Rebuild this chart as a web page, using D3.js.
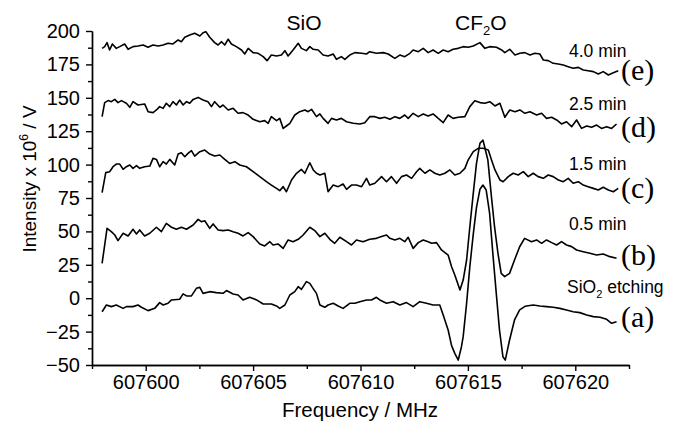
<!DOCTYPE html>
<html>
<head>
<meta charset="utf-8">
<script src="https://cdn.jsdelivr.net/npm/d3@7"></script>
<style>
body { margin: 0; background: #fff; }
svg text { fill: #000; }
</style>
</head>
<body>
<div id="chart"></div>
<script>
// spectra: [frequency MHz, intensity x 10^6 V]
var traceA = [[607597.97,-10.1],[607598.17,-5.1],[607598.40,-6.3],[607598.63,-5.1],[607598.95,-7.6],[607599.10,-6.3],[607599.41,-6.3],[607599.64,-5.1],[607599.80,-6.8],[607600.11,-9.3],[607600.42,-7.6],[607600.65,-3.3],[607600.81,-5.1],[607601.04,-3.8],[607601.20,-1.3],[607601.58,-0.8],[607601.74,3.2],[607601.90,1.7],[607602.13,1.7],[607602.36,7.4],[607602.52,8.1],[607602.67,3.6],[607602.98,4.9],[607603.29,4.2],[607603.60,3.7],[607603.76,5.7],[607604.07,3.2],[607604.30,2.4],[607604.53,-1.3],[607604.84,0.7],[607605.16,-1.3],[607605.47,-4.3],[607605.85,-4.3],[607606.09,-5.8],[607606.24,-7.6],[607606.48,-5.1],[607606.71,2.4],[607606.94,4.9],[607607.10,8.6],[607607.25,6.6],[607607.48,12.4],[607607.64,11.1],[607607.79,7.4],[607607.95,3.6],[607608.11,-5.1],[607608.34,-6.8],[607608.49,-5.1],[607608.73,-3.8],[607608.96,-5.8],[607609.19,-7.6],[607609.50,-3.8],[607609.74,-3.8],[607609.97,-2.6],[607610.28,-1.3],[607610.51,-1.3],[607610.74,0.7],[607610.90,-1.3],[607611.21,-3.8],[607611.52,-2.6],[607611.83,-5.1],[607612.14,-3.3],[607612.45,-6.3],[607612.76,-2.6],[607613.07,-3.8],[607613.38,-5.1],[607613.69,-5.1],[607613.85,-12.6],[607614.08,-23.8],[607614.24,-35.5],[607614.39,-41.3],[607614.55,-46.3],[607614.70,-36.3],[607614.78,-28.8],[607614.94,-3.8],[607615.09,23.6],[607615.25,48],[607615.40,68],[607615.56,81.5],[607615.70,84.7],[607615.85,81],[607616.01,63.6],[607616.16,33.7],[607616.32,3.8],[607616.47,-23.7],[607616.63,-43.8],[607616.74,-46.3],[607616.94,-31.3],[607617.17,-16.3],[607617.41,-8.8],[607617.64,-6.3],[607617.73,-5.8],[607618.04,-5.1],[607618.35,-5.8],[607618.66,-6.3],[607618.97,-6.8],[607619.28,-7.6],[607619.59,-8.8],[607619.90,-10.1],[607620.21,-10.8],[607620.53,-12.6],[607620.84,-13.8],[607621.15,-14.3],[607621.46,-15.8],[607621.69,-18.8],[607621.92,-17.6]];

var traceB = [[607597.97,26.1],[607598.20,52.3],[607598.40,49.8],[607598.56,47.3],[607598.71,43.1],[607598.95,48.6],[607599.18,46.6],[607599.41,51.6],[607599.57,48.1],[607599.72,51.1],[607599.95,46.6],[607600.19,48.6],[607600.50,53.1],[607600.73,49.8],[607600.96,56.0],[607601.20,53.1],[607601.43,51.6],[607601.66,53.1],[607601.90,51.6],[607602.21,54.8],[607602.44,59.0],[607602.59,57.3],[607602.75,58.0],[607602.98,52.3],[607603.14,55.6],[607603.37,51.1],[607603.60,50.6],[607603.84,51.1],[607604.07,49.8],[607604.30,48.6],[607604.53,46.6],[607604.77,49.1],[607605.00,46.1],[607605.31,40.6],[607605.54,39.1],[607605.78,42.3],[607605.93,39.8],[607606.16,40.6],[607606.40,37.3],[607606.63,43.6],[607606.86,42.3],[607607.10,44.1],[607607.33,47.3],[607607.64,53.1],[607607.87,50.6],[607608.11,46.1],[607608.34,48.6],[607608.57,44.1],[607608.80,41.1],[607609.04,45.6],[607609.35,42.3],[607609.58,39.8],[607609.81,43.6],[607610.12,42.3],[607610.43,44.1],[607610.74,44.8],[607610.98,46.1],[607611.21,47.3],[607611.37,44.8],[607611.60,43.6],[607611.83,44.8],[607612.06,42.3],[607612.22,45.6],[607612.45,37.3],[607612.69,41.6],[607612.92,43.6],[607613.15,42.3],[607613.31,41.1],[607613.54,41.6],[607613.77,36.1],[607614.08,32.3],[607614.24,23.6],[607614.39,17.4],[607614.63,6.1],[607614.78,13.6],[607614.94,28.6],[607615.09,53.5],[607615.25,78.5],[607615.40,100.9],[607615.56,115.9],[607615.70,118.4],[607615.93,103.4],[607616.08,78.5],[607616.24,53.5],[607616.40,33.5],[607616.55,18.6],[607616.71,16.1],[607616.94,18.6],[607617.17,28.6],[607617.41,38.5],[607617.64,44.8],[607617.96,42.3],[607618.20,43.6],[607618.43,41.1],[607618.66,43.6],[607618.90,41.6],[607619.13,39.8],[607619.36,42.3],[607619.59,39.8],[607619.83,38.6],[607620.06,36.1],[607620.37,34.8],[607620.68,33.6],[607620.99,32.3],[607621.30,33.1],[607621.61,31.1],[607621.92,29.9]];

var traceC = [[607597.97,79.0],[607598.14,94.0],[607598.32,94.7],[607598.48,98.4],[607598.63,100.4],[607598.79,100.4],[607598.95,96.5],[607599.10,98.4],[607599.26,99.7],[607599.41,97.2],[607599.57,99.2],[607599.72,97.2],[607599.95,98.4],[607600.19,98.9],[607600.34,104.7],[607600.50,103.9],[607600.65,98.4],[607600.81,102.2],[607600.96,100.4],[607601.12,103.9],[607601.35,99.7],[607601.51,107.9],[607601.66,108.9],[607601.82,105.9],[607601.97,108.4],[607602.13,110.4],[607602.28,106.4],[607602.52,109.7],[607602.75,110.9],[607602.98,107.9],[607603.21,106.4],[607603.45,107.2],[607603.68,103.9],[607603.91,100.9],[607604.15,102.2],[607604.38,99.7],[607604.69,98.4],[607605.00,94.7],[607605.31,91.0],[607605.62,87.2],[607605.85,84.7],[607606.09,82.2],[607606.24,80.5],[607606.40,83.5],[607606.55,79.7],[607606.79,88.5],[607607.02,93.5],[607607.25,96.4],[607607.41,93.5],[607607.64,101.4],[607607.80,96.0],[607607.95,93.5],[607608.11,92.2],[607608.34,93.5],[607608.49,79.7],[607608.73,84.7],[607608.96,83.5],[607609.19,85.5],[607609.35,81.5],[607609.58,84.7],[607609.81,84.7],[607610.05,83.5],[607610.28,89.7],[607610.43,84.7],[607610.67,86.0],[607610.98,91.0],[607611.21,87.2],[607611.44,91.0],[607611.68,86.0],[607611.91,91.0],[607612.14,92.2],[607612.38,89.7],[607612.61,94.7],[607612.76,97.2],[607613.00,93.5],[607613.23,96.0],[607613.46,93.5],[607613.69,92.2],[607613.93,93.5],[607614.16,96.0],[607614.39,92.2],[607614.63,93.5],[607614.86,97.2],[607615.01,103.4],[607615.25,109.7],[607615.48,112.2],[607615.71,112.2],[607615.95,110.9],[607616.10,103.4],[607616.26,96.0],[607616.49,88.5],[607616.64,87.2],[607616.88,91.0],[607617.11,93.5],[607617.34,92.2],[607617.58,94.7],[607617.81,91.0],[607618.04,93.5],[607618.27,91.0],[607618.51,89.7],[607618.74,92.2],[607618.97,91.0],[607619.21,88.5],[607619.44,87.2],[607619.67,89.7],[607619.90,86.0],[607620.14,87.2],[607620.37,84.7],[607620.60,83.5],[607620.84,82.2],[607621.07,81.0],[607621.30,83.0],[607621.54,81.0],[607621.77,79.7],[607622.00,82.2]];

var traceD = [[607597.97,135.9],[607598.09,146.4],[607598.25,147.9],[607598.40,147.1],[607598.56,148.8],[607598.71,146.4],[607598.87,147.9],[607599.10,145.9],[607599.26,142.9],[607599.41,147.1],[607599.64,144.6],[607599.95,145.4],[607600.11,139.6],[607600.34,138.9],[607600.50,140.9],[607600.65,143.4],[607600.81,142.1],[607600.96,145.9],[607601.12,143.4],[607601.27,147.1],[607601.43,144.6],[607601.58,148.3],[607601.74,144.6],[607601.90,147.1],[607602.05,145.9],[607602.21,148.8],[607602.44,150.3],[607602.67,148.3],[607602.90,147.1],[607603.06,143.4],[607603.21,147.1],[607603.45,142.9],[607603.60,144.6],[607603.84,140.9],[607604.07,142.1],[607604.30,138.4],[607604.53,138.9],[607604.77,137.1],[607605.00,133.9],[607605.31,132.1],[607605.54,132.9],[607605.70,130.9],[607605.85,135.9],[607606.09,132.9],[607606.24,134.6],[607606.40,127.1],[607606.55,128.9],[607606.71,130.9],[607606.94,137.1],[607607.17,139.6],[607607.41,140.9],[607607.56,139.6],[607607.72,141.4],[607607.95,135.9],[607608.11,137.9],[607608.26,134.6],[607608.49,130.9],[607608.65,134.6],[607608.88,133.4],[607609.11,134.6],[607609.35,132.1],[607609.66,130.9],[607609.97,130.4],[607610.20,131.4],[607610.43,135.9],[607610.67,135.9],[607610.90,134.6],[607611.13,135.4],[607611.37,133.9],[607611.60,135.9],[607611.83,134.6],[607612.06,137.1],[607612.22,134.6],[607612.45,138.4],[607612.69,135.9],[607612.92,137.9],[607613.15,136.4],[607613.38,137.9],[607613.62,134.6],[607613.85,131.4],[607614.08,137.1],[607614.31,134.6],[607614.55,135.4],[607614.86,135.9],[607615.09,143.4],[607615.32,147.8],[607615.56,146.4],[607615.79,145.9],[607616.02,147.1],[607616.26,143.9],[607616.49,145.9],[607616.72,135.4],[607616.95,140.9],[607617.19,139.6],[607617.42,140.9],[607617.65,138.4],[607617.89,139.6],[607618.20,137.1],[607618.43,138.4],[607618.66,134.6],[607618.90,135.4],[607619.13,133.4],[607619.36,130.4],[607619.59,132.1],[607619.83,128.4],[607620.06,133.4],[607620.29,127.1],[607620.53,128.9],[607620.76,127.9],[607620.99,129.6],[607621.22,127.1],[607621.46,128.4],[607621.69,127.1],[607621.92,130.4]];

var traceE = [[607597.97,187.0],[607598.09,188.3],[607598.20,191.3],[607598.32,185.8],[607598.45,190.3],[607598.63,187.0],[607598.79,188.3],[607599.02,190.3],[607599.18,186.3],[607599.41,188.3],[607599.64,188.8],[607599.88,189.5],[607600.11,187.8],[607600.34,189.5],[607600.58,188.8],[607600.81,189.5],[607601.04,190.8],[607601.27,190.3],[607601.51,193.3],[607601.66,192.0],[607601.82,195.3],[607602.05,197.0],[607602.28,198.3],[607602.52,196.3],[607602.67,198.7],[607602.80,199.5],[607602.98,195.3],[607603.21,191.3],[607603.37,189.5],[607603.53,192.0],[607603.68,189.5],[607603.84,193.8],[607603.99,190.3],[607604.22,188.3],[607604.46,185.8],[607604.61,182.8],[607604.77,187.0],[607605.00,183.8],[607605.23,183.3],[607605.47,180.8],[607605.65,177.8],[607605.85,182.0],[607606.09,181.3],[607606.32,182.0],[607606.48,185.3],[607606.63,181.3],[607606.86,185.8],[607607.10,190.8],[607607.25,187.0],[607607.48,185.3],[607607.64,188.3],[607607.80,186.3],[607608.03,185.8],[607608.26,182.0],[607608.49,181.3],[607608.73,182.8],[607608.88,178.8],[607609.11,180.8],[607609.27,178.8],[607609.50,182.0],[607609.74,183.8],[607610.05,183.3],[607610.28,182.8],[607610.43,184.5],[607610.74,183.3],[607611.06,183.8],[607611.29,182.8],[607611.60,179.5],[607611.83,182.0],[607612.06,180.8],[607612.30,183.3],[607612.45,185.8],[607612.69,184.5],[607612.92,187.0],[607613.15,183.8],[607613.38,185.8],[607613.62,183.3],[607613.85,185.8],[607614.08,184.5],[607614.31,186.3],[607614.55,187.0],[607614.78,188.3],[607615.01,187.8],[607615.25,188.8],[607615.56,191.3],[607615.79,187.0],[607616.02,188.3],[607616.33,187.8],[607616.57,185.8],[607616.72,183.8],[607616.95,186.3],[607617.19,182.0],[607617.42,183.3],[607617.65,183.8],[607617.89,182.0],[607618.12,183.3],[607618.35,182.8],[607618.51,178.3],[607618.74,177.8],[607618.97,175.8],[607619.21,175.3],[607619.44,174.5],[607619.67,173.3],[607619.90,172.1],[607620.14,172.8],[607620.37,170.8],[607620.60,170.3],[607620.84,169.6],[607621.07,167.8],[607621.30,169.6],[607621.54,167.1],[607621.77,168.8],[607622.00,170.3]];

var traces = [traceA, traceB, traceC, traceD, traceE];
var xMajor = [607600, 607605, 607610, 607615, 607620];
var xMinor = [607597.5, 607602.5, 607607.5, 607612.5, 607617.5, 607622.5];
var yMajor = [-50, -25, 0, 25, 50, 75, 100, 125, 150, 175, 200];
var yMinor = [-37.5, -12.5, 12.5, 37.5, 62.5, 87.5, 112.5, 137.5, 162.5, 187.5];
var timeLabels = ["4.0 min", "2.5 min", "1.5 min", "0.5 min"];
var letterLabels = ["(e)", "(d)", "(c)", "(b)", "(a)"];

var sans = "'Liberation Sans', Arial, sans-serif",
    serif = "'Liberation Serif', 'Times New Roman', serif";

var width = 676,
    height = 425;

var x = d3.scaleLinear()
    .domain([607597.5, 607622.5])
    .range([92, 629]);
var y = d3.scaleLinear()
    .domain([-50, 200])
    .range([365, 31]);

var svg = d3.select("#chart").append("svg")
    .attr("width", width)
    .attr("height", height)
    .style("font-family", sans);

var line = d3.line()
    .x(d => x(d[0]))
    .y(d => y(d[1]));

svg.append("g")
    .selectAll("path")
    .data(traces)
    .enter().append("path")
    .attr("d", line)
    .attr("fill", "none")
    .attr("stroke", "#000")
    .attr("stroke-width", 1.6)
    .attr("stroke-linejoin", "round");

// axes
svg.append("g")
    .attr("transform", "translate(0,365)")
    .call(d3.axisBottom(x).tickValues(xMajor).tickFormat(d3.format("d")).tickSize(6).tickSizeOuter(0).tickPadding(4));
svg.append("g")
    .attr("transform", "translate(0,365)")
    .call(d3.axisBottom(x).tickValues(xMinor).tickFormat("").tickSize(4).tickSizeOuter(0));

svg.append("g")
    .attr("transform", "translate(92,0)")
    .call(d3.axisLeft(y).tickValues(yMajor).tickSize(6).tickSizeOuter(0).tickPadding(6));
svg.append("g")
    .attr("transform", "translate(92,0)")
    .call(d3.axisLeft(y).tickValues(yMinor).tickFormat("").tickSize(4).tickSizeOuter(0));

svg.selectAll(".domain, .tick line")
    .attr("stroke", "#000")
    .attr("stroke-width", 1.4);
svg.selectAll(".tick text")
    .style("font-family", sans)
    .style("font-size", "20px")
    .attr("fill", "#000");

// axis titles
svg.append("text")
    .attr("x", 360)
    .attr("y", 417)
    .attr("text-anchor", "middle")
    .style("font-size", "20.5px")
    .text("Frequency / MHz");

var yt = svg.append("text")
    .attr("transform", "translate(36,179) rotate(-90)")
    .attr("text-anchor", "middle")
    .style("font-size", "19px");
yt.append("tspan").text("Intensity x 10");
yt.append("tspan").style("font-size", "12px").attr("dy", -8).text("6");
yt.append("tspan").attr("dy", 8).text(" / V");

// species labels
svg.append("text")
    .attr("x", 304).attr("y", 30)
    .attr("text-anchor", "middle")
    .style("font-size", "21px")
    .text("SiO");
var cf = svg.append("text")
    .attr("x", 455).attr("y", 30)
    .style("font-size", "21px");
cf.append("tspan").text("CF");
cf.append("tspan").style("font-size", "13px").attr("dy", 5).text("2");
cf.append("tspan").attr("dy", -5).text("O");

// time labels
var timeY = [57, 110, 170, 230];
svg.append("g")
    .selectAll("text")
    .data(timeLabels)
    .enter().append("text")
    .attr("x", 569)
    .attr("y", (d, i) => timeY[i])
    .style("font-size", "17.5px")
    .text(d => d);
var et = svg.append("text")
    .attr("x", 567).attr("y", 293)
    .style("font-size", "17.5px");
et.append("tspan").text("SiO");
et.append("tspan").style("font-size", "11px").attr("dy", 5).text("2");
et.append("tspan").attr("dy", -5).text(" etching");

var letterY = [80, 137, 198, 265, 327];
svg.append("g")
    .selectAll("text")
    .data(letterLabels)
    .enter().append("text")
    .attr("x", 621)
    .attr("y", (d, i) => letterY[i])
    .style("font-family", serif)
    .style("font-size", "30px")
    .text(d => d);
</script>
</body>
</html>
